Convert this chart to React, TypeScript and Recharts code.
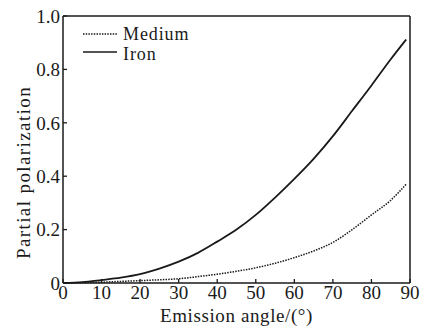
import { LineChart, Line, XAxis, YAxis } from "recharts";

const angles = [0, 5, 10, 15, 20, 25, 30, 35, 40, 45, 50, 55, 60, 65, 70, 75, 80, 85, 89];
const medium = [0, 0.001, 0.003, 0.006, 0.009, 0.012, 0.016, 0.024, 0.033, 0.044, 0.057, 0.074, 0.095, 0.12, 0.152, 0.2, 0.255, 0.31, 0.37];
const iron = [0, 0.003, 0.011, 0.02, 0.033, 0.054, 0.08, 0.113, 0.155, 0.2, 0.255, 0.32, 0.39, 0.465, 0.55, 0.645, 0.74, 0.838, 0.912];
const xTicks = [0, 10, 20, 30, 40, 50, 60, 70, 80, 90];
const yTicks = [0, 0.2, 0.4, 0.6, 0.8, 1.0];

const data = angles.map((a, i) => ({ angle: a, medium: medium[i], iron: iron[i] }));

const font = "Liberation Serif";
const ink = "#1a1a1a";
const axisLine = { stroke: ink, strokeWidth: 1.5 };
const tickLine = { stroke: ink, strokeWidth: 1.3 };

function YLabel(props: any) {
  const vb = props.viewBox || { x: 0, y: 16, width: 63, height: 267 };
  const cx = 23;
  const cy = vb.y + vb.height / 2 + 23;
  return (
    <text x={cx} y={cy} transform={`rotate(-90 ${cx} ${cy})`} textAnchor="middle" dominantBaseline="central" fontFamily={font} fontSize={19} fill={ink} letterSpacing={1.4}>
      Partial polarization
    </text>
  );
}

function XLabel(props: any) {
  const vb = props.viewBox || { x: 63, y: 283, width: 347, height: 44 };
  return (
    <text x={vb.x + vb.width / 2} y={322} textAnchor="middle" fontFamily={font} fontSize={19} fill={ink} letterSpacing={0.6}>
      Emission angle/(°)
    </text>
  );
}

export default function App() {
  return (
    <div style={{ position: "absolute", left: 0, top: 0, width: 422, height: 327, background: "#fff" }}>
      <LineChart width={422} height={327} data={data} margin={{ top: 15, right: 11, left: 0, bottom: 0 }}>
        <XAxis
          dataKey="angle"
          type="number"
          domain={[0, 90]}
          ticks={xTicks}
          height={44}
          tickSize={-4}
          tickMargin={7}
          axisLine={axisLine}
          tickLine={tickLine}
          tick={{ fill: ink, fontFamily: font, fontSize: 19 }}
          label={<XLabel />}
        />
        <XAxis xAxisId="top" dataKey="angle" type="number" domain={[0, 90]} orientation="top" height={1} tick={false} tickLine={false} axisLine={axisLine} />
        <YAxis
          type="number"
          domain={[0, 1]}
          ticks={yTicks}
          width={63}
          tickSize={-4}
          tickMargin={7}
          axisLine={axisLine}
          tickLine={tickLine}
          tickFormatter={(v: number) => (v === 0 ? "0" : v.toFixed(1))}
          tick={{ fill: ink, fontFamily: font, fontSize: 19 }}
          label={<YLabel />}
        />
        <YAxis yAxisId="right" type="number" domain={[0, 1]} orientation="right" width={1} tick={false} tickLine={false} axisLine={axisLine} />
        <Line type="monotone" dataKey="medium" stroke={ink} strokeWidth={1.5} strokeDasharray="1.5 1.2" dot={false} isAnimationActive={false} />
        <Line type="monotone" dataKey="iron" stroke={ink} strokeWidth={1.8} dot={false} isAnimationActive={false} />
      </LineChart>
      <svg width={422} height={327} style={{ position: "absolute", left: 0, top: 0, pointerEvents: "none" }}>
        <line x1={83} y1={34} x2={117} y2={34} stroke={ink} strokeWidth={1.5} strokeDasharray="1.5 1.2" />
        <text x={123} y={40} fontFamily={font} fontSize={18} fill={ink} letterSpacing={0.9}>Medium</text>
        <line x1={83} y1={52} x2={117} y2={52} stroke={ink} strokeWidth={1.5} />
        <text x={123} y={60} fontFamily={font} fontSize={18} fill={ink} letterSpacing={0.9}>Iron</text>
      </svg>
    </div>
  );
}
